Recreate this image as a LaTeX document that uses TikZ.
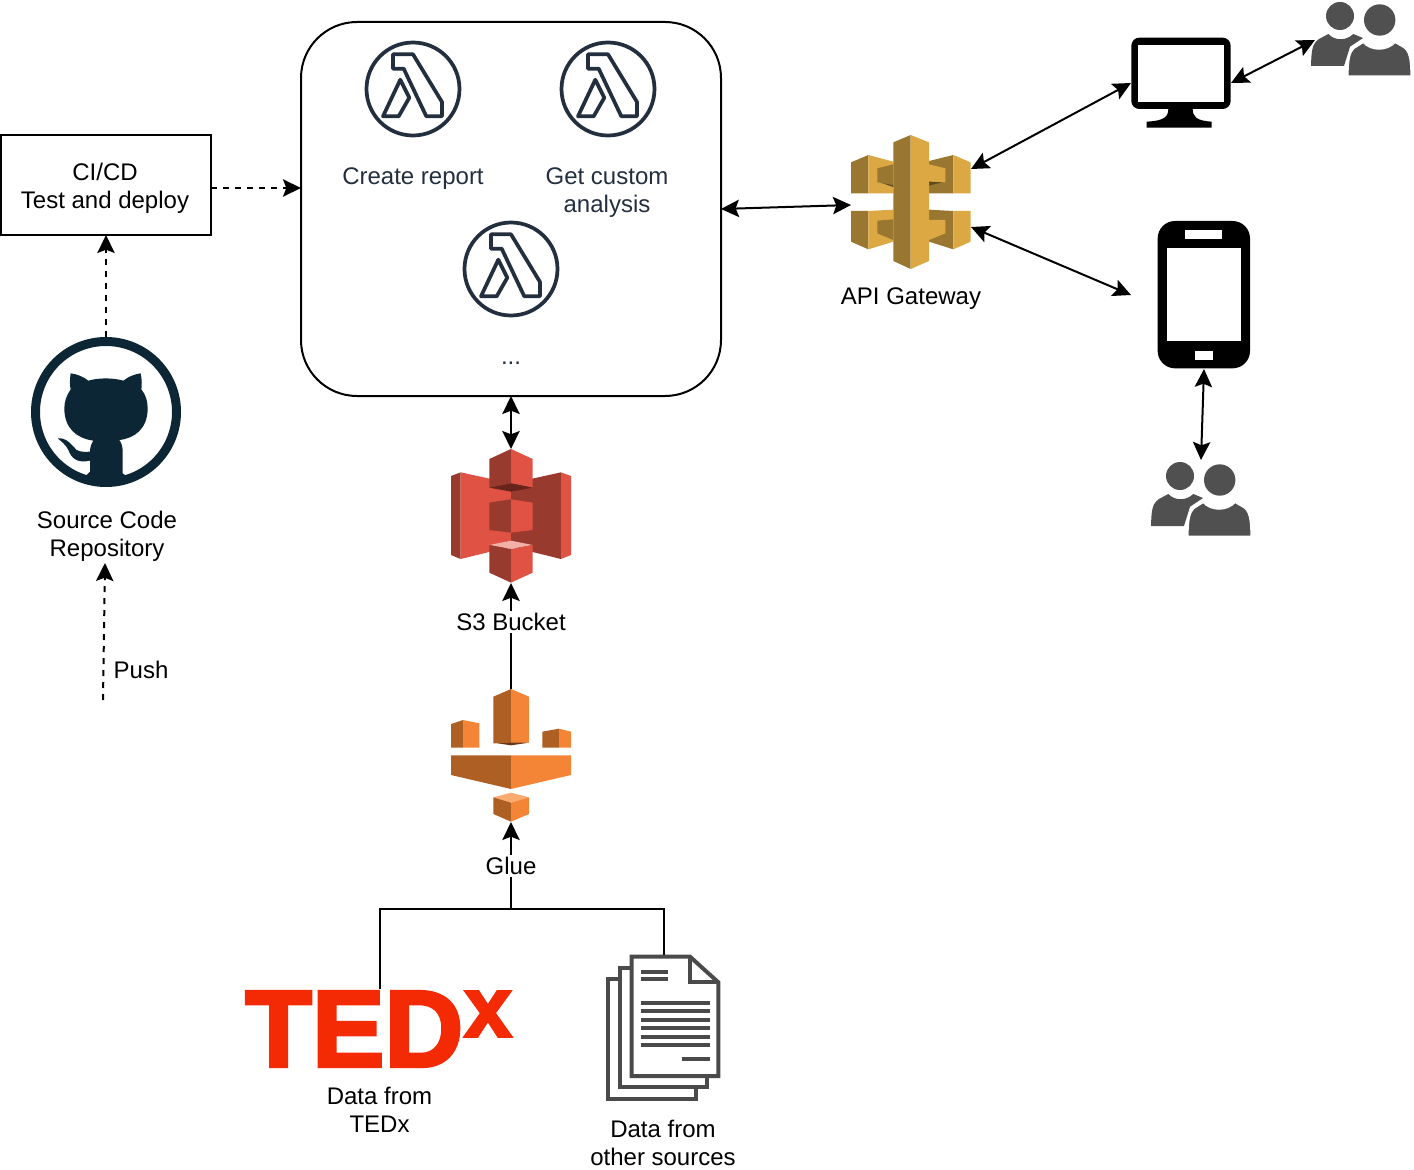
\documentclass[tikz,border=0pt]{standalone}
\usepackage{fontspec}
\setmainfont{Liberation Sans}
\newfontfamily\tedfont[UprightFont=* Bold,UprightFeatures={FakeBold=3}]{Liberation Sans}
\usetikzlibrary{arrows.meta}
\definecolor{lambdaink}{HTML}{232F3E}
\definecolor{gitink}{HTML}{0D2636}
\definecolor{tedred}{HTML}{F42A04}
\definecolor{paperink}{HTML}{4A4A4A}
\definecolor{userink}{HTML}{505050}
\definecolor{sthreelight}{HTML}{E05243}
\definecolor{sthreedark}{HTML}{993A2E}
\definecolor{sthreedeep}{HTML}{66241B}
\definecolor{sthreepale}{HTML}{F2B0A9}
\definecolor{gluelight}{HTML}{F58536}
\definecolor{gluedark}{HTML}{AD5F24}
\definecolor{gluepale}{HTML}{FBAB6E}
\definecolor{apilight}{HTML}{DBA843}
\definecolor{apidark}{HTML}{997730}
\definecolor{apideep}{HTML}{5E4A1E}
\tikzset{
    >={Stealth[length=13.5pt,width=13pt,inset=2.5pt]},
    link/.style={line width=1.5pt},
    softlink/.style={line width=1.5pt,dash pattern=on 4.5pt off 4.5pt},
    iconbox/.style 2 args={minimum width=#1*0.75pt,minimum height=#2*0.75pt,inner sep=0pt,outer sep=0pt},
    textlabel/.style={font=\fontsize{18}{21}\selectfont,align=center,inner sep=0pt},
    lambdaicon/.pic={
        \draw[lambdaink,line width=2.8pt] (0,0) circle (46.5);
        \draw[lambdaink,line width=2.8pt,line join=round]
            (-20,-34.7) -- (0,-34.7) -- (29,13) -- (29,27.3) -- (13.3,27.3)
            -- (-9.3,-20.3) -- (-20,-20.3) -- cycle;
        \draw[lambdaink,line width=2.8pt,line join=round]
            (-12.7,-9.3) -- (-3.7,8.7) -- (-14.3,27.3) -- (-30,27.3) -- cycle;
    },
    usersicon/.pic={
        \fill[userink] (29,16) circle (14);
        \fill[userink] (0,66) .. controls (0.5,50) and (1,44) .. (8,39) -- (17.3,34)
            .. controls (24,41) and (35,41) .. (42.3,34) -- (52,38) -- (39,46.7) -- (33,66) -- cycle;
        \fill[userink] (68.7,20) circle (15.7);
        \fill[userink,draw=white,line width=1.5pt] (36.5,76.5) .. controls (37,60) and (37.5,50) .. (46,46) -- (52.3,42)
            .. controls (60,51) and (76,51) .. (84,42)
            -- (91,46) .. controls (99.5,50) and (100,60) .. (100.5,76.5) -- cycle;
    }
}
\begin{document}
\begin{tikzpicture}[x=0.75pt,y=-0.75pt]
    \useasboundingbox (0,0) rectangle (1414,1170);

    % Main boxes
    \node[draw,line width=1.5pt,rounded corners=42pt,iconbox={420}{374}] (lambdas) at (511,209) {};
    \node[draw,line width=1.5pt,iconbox={210}{100}] (cicd) at (106,185) {};
    \node[textlabel] (cicdtext) at (105,188) {CI/CD\\Test and deploy};

    % Lambda functions
    \pic at (413,89) {lambdaicon};
    \pic at (608,89) {lambdaicon};
    \pic at (511,269) {lambdaicon};
    \node[textlabel,text=lambdaink] (report) at (413,179) {Create report};
    \node[textlabel,text=lambdaink] (analysis) at (607,193) {Get custom\\analysis};
    \node[textlabel,text=lambdaink] (others) at (511,363) {...};

    % Icon places
    \node[iconbox={150}{150}] (github) at (106,412) {};
    \node[iconbox={120}{134}] (gateway) at (911,202) {};
    \node[iconbox={120}{134}] (bucket) at (511,516) {};
    \node[iconbox={120}{133}] (glue) at (511,755.5) {};
    \node[iconbox={266}{78}] (tedx) at (380,1028) {};
    \node[iconbox={113}{145}] (papers) at (664,1027.5) {};
    \node[iconbox={100}{90}] (monitor) at (1181,83) {};
    \node[iconbox={146}{148}] (phone) at (1204,295) {};
    \node[iconbox={100}{76}] (usersa) at (1361,38) {};
    \node[iconbox={100}{76}] (usersb) at (1201,498) {};

    % GitHub
    \draw[gitink,line width=6.75pt] (github) circle (70.5);
    \begin{scope}[shift={(20,330)},x=0.25pt,y=-0.25pt]
        \fill[gitink] (152,130) .. controls (170,132) and (190,140) .. (205,152)
            .. controls (235,143) and (280,143) .. (310,152)
            .. controls (325,140) and (345,132) .. (362,130)
            .. controls (366,150) and (366,165) .. (364,178)
            .. controls (378,195) and (383,215) .. (383,235)
            .. controls (383,295) and (345,325) .. (298,330)
            .. controls (305,340) and (308,350) .. (308,365)
            -- (308,430) -- (315,435) -- (315,460) -- (200,460) -- (200,435) -- (210,425) -- (210,392)
            .. controls (170,400) and (155,385) .. (145,360)
            .. controls (138,345) and (125,335) .. (113,325)
            .. controls (140,322) and (155,345) .. (170,360)
            .. controls (185,368) and (200,365) .. (210,365)
            .. controls (210,350) and (215,340) .. (220,332)
            .. controls (170,325) and (133,295) .. (133,235)
            .. controls (133,215) and (140,195) .. (152,178)
            .. controls (149,165) and (149,150) .. (152,130) -- cycle;
    \end{scope}

    % S3 bucket
    \begin{scope}[shift={(430,440)},x=0.25pt,y=-0.25pt]
        \fill[sthreedark] (63,108) -- (92,97) -- (92,357) -- (63,345) -- cycle;
        \fill[sthreelight] (92,97) -- (243,130) -- (243,320) -- (92,357) -- cycle;
        \fill[sthreedark] (243,130) -- (393,97) -- (393,357) -- (243,320) -- cycle;
        \fill[sthreelight] (393,97) -- (423,108) -- (423,345) -- (393,357) -- cycle;
        \fill[sthreedark] (178,57) -- (243,27) -- (243,130) -- (178,143) -- cycle;
        \fill[sthreelight] (243,27) -- (308,57) -- (308,143) -- (243,130) -- cycle;
        \fill[sthreedeep] (178,143) -- (243,130) -- (308,143) -- (243,155) -- cycle;
        \fill[sthreedark] (178,188) -- (243,178) -- (243,278) -- (178,270) -- cycle;
        \fill[sthreelight] (243,178) -- (308,188) -- (308,270) -- (243,278) -- cycle;
        \fill[sthreepale] (178,315) -- (243,302) -- (308,315) -- (243,327) -- cycle;
        \fill[sthreedark] (178,315) -- (243,327) -- (243,428) -- (178,398) -- cycle;
        \fill[sthreelight] (243,327) -- (308,315) -- (308,398) -- (243,428) -- cycle;
    \end{scope}

    % Glue
    \begin{scope}[shift={(430,680)},x=0.25pt,y=-0.25pt]
        \fill[gluedark!60!black] (190,188) -- (243,183) -- (297,188) -- (243,196) -- cycle;
        \fill[gluedark] (190,50) -- (243,27) -- (243,188) -- (190,190) -- cycle;
        \fill[gluelight] (243,27) -- (297,50) -- (297,188) -- (243,188) -- cycle;
        \fill[gluedark] (63,132) -- (99,120) -- (99,203) -- (63,203) -- cycle;
        \fill[gluelight] (99,120) -- (148,130) -- (148,203) -- (99,203) -- cycle;
        \fill[gluedark] (337,155) -- (387,146) -- (387,203) -- (337,203) -- cycle;
        \fill[gluelight] (387,146) -- (423,155) -- (423,203) -- (387,203) -- cycle;
        \fill[gluedark] (63,226) -- (243,226) -- (243,327) -- (63,285) -- cycle;
        \fill[gluelight] (243,226) -- (423,226) -- (423,285) -- (243,327) -- cycle;
        \fill[gluepale] (190,352) -- (243,338) -- (297,352) -- (243,368) -- cycle;
        \fill[gluedark] (190,352) -- (243,368) -- (243,425) -- (190,402) -- cycle;
        \fill[gluelight] (243,368) -- (297,352) -- (297,402) -- (243,425) -- cycle;
    \end{scope}

    % API gateway
    \begin{scope}[shift={(840,125)},x=0.25pt,y=-0.25pt]
        \fill[apidark] (33,112) -- (85,90) -- (85,205) -- (33,205) -- cycle;
        \fill[apilight] (85,90) -- (160,110) -- (160,205) -- (85,205) -- cycle;
        \fill[apidark] (112,130) -- (160,118) -- (160,180) -- (112,172) -- cycle;
        \fill[apideep] (125,174) -- (160,180) -- (160,186) -- cycle;
        \fill[apidark] (267,108) -- (340,90) -- (340,205) -- (267,205) -- cycle;
        \fill[apilight] (340,90) -- (392,112) -- (392,205) -- (340,205) -- cycle;
        \fill[apilight] (267,118) -- (316,130) -- (316,172) -- (267,170) -- cycle;
        \fill[apideep] (267,170) -- (305,172) -- (267,182) -- cycle;
        \fill[apidark] (33,258) -- (85,258) -- (85,373) -- (33,350) -- cycle;
        \fill[apilight] (85,258) -- (160,254) -- (160,350) -- (85,373) -- cycle;
        \fill[apidark] (112,287) -- (160,283) -- (160,345) -- (112,325) -- cycle;
        \fill[apidark] (267,254) -- (340,258) -- (340,373) -- (267,350) -- cycle;
        \fill[apilight] (340,258) -- (392,258) -- (392,350) -- (340,373) -- cycle;
        \fill[apilight] (267,285) -- (316,285) -- (316,325) -- (267,345) -- cycle;
        \fill[apidark] (160,52) -- (212,30) -- (212,432) -- (160,408) -- cycle;
        \fill[apilight] (212,30) -- (267,52) -- (267,408) -- (212,432) -- cycle;
    \end{scope}

    % Data sources
    \node[anchor=base west,inner sep=0pt,text=tedred,font=\tedfont\fontsize{81.75}{82}\selectfont] (tedword) at (245,1066.5) {TED};
    \node[anchor=base west,inner sep=0pt,text=tedred,font=\tedfont\fontsize{64}{64}\selectfont] (tedmark) at (464,1036.5) {x};
    \begin{scope}[shift={(235,950)},x=0.25pt,y=-0.25pt,paperink,line width=3pt]
        \draw (1155,88) -- (1120,88) -- (1120,447) -- (1382,447) -- (1382,412);
        \draw (1190,55) -- (1155,55) -- (1155,412) -- (1415,412) -- (1415,378);
        \draw[fill=white] (1190,20) -- (1365,20) -- (1450,97) -- (1450,378) -- (1190,378) -- cycle;
        \draw (1365,20) -- (1365,97) -- (1450,97);
        \foreach \y in {66,88} \draw (1218,\y) -- (1300,\y);
        \foreach \y in {158,184,209,235,260,286} \draw (1218,\y) -- (1424,\y);
        \draw (1340,327) -- (1424,327);
    \end{scope}

    % Monitor and phone
    \begin{scope}[shift={(1120,0)},x=0.25pt,y=-0.25pt]
        \fill[black,rounded corners=6pt] (34,113) rectangle (332,327);
        \fill[white] (55,135) rectangle (311,306);
        \fill[black] (145,325) .. controls (145,350) and (135,362) .. (80,365) -- (80,383) -- (275,383)
            -- (275,365) .. controls (228,362) and (218,350) .. (218,325) -- cycle;
    \end{scope}
    \begin{scope}[shift={(1120,215)},x=0.25pt,y=-0.25pt]
        \fill[black,rounded corners=13pt] (113,18) rectangle (390,460);
        \fill[white] (141,100) rectangle (363,379);
        \fill[white] (196,46) rectangle (307,73);
        \fill[white] (224,407) rectangle (280,434);
    \end{scope}

    % Users
    \pic at (1311,0) {usersicon};
    \pic at (1151,460) {usersicon};

    % Free ends
    \coordinate (cicdout) at (211,188);
    \coordinate (lambdasin) at (301,188);
    \coordinate (pushstart) at (103,700);
    \coordinate (pushend) at (105,563);
    \coordinate (gatewayin) at (851,205);
    \coordinate (gatewaya) at (971,169);
    \coordinate (gatewayb) at (971,227);
    \coordinate (usersain) at (1315,40);
    \coordinate (merge) at (511,909);

    % Connectors
    \draw[softlink,->] (cicdout) -- (lambdasin);
    \draw[softlink,->] (github.north) -- (cicd.south);
    \draw[softlink,->] (pushstart) -- (pushend);
    \draw[link,<->] (lambdas.east) -- (gatewayin);
    \draw[link,<->] (lambdas.south) -- (bucket.north);
    \draw[link,<->] (gatewaya) -- (monitor.west);
    \draw[link,<->] (gatewayb) -- (phone.west);
    \draw[link,<->] (monitor.east) -- (usersain);
    \draw[link,<->] (phone.south) -- (usersb.north);
    \draw[link,->] (glue.north) -- (bucket.south);
    \draw[link] (tedx.north) |- (merge);
    \draw[link] (papers.north) |- (merge);
    \draw[link,->] (merge) -- (glue.south);

    % Labels
    \node[textlabel] (gatewaytext) at (911,299) {API Gateway};
    \node[textlabel] (repotext) at (107,536) {Source Code\\Repository};
    \node[textlabel] (pushtext) at (141,670) {Push};
    \node[textlabel,fill=white,inner ysep=2pt] (buckettext) at (511,622) {S3 Bucket};
    \node[textlabel,fill=white,inner ysep=2pt] (gluetext) at (511,866) {Glue};
    \node[textlabel] (tedxtext) at (379.5,1110) {Data from\\TEDx};
    \node[textlabel] (paperstext) at (663,1143) {Data from\\other sources};
\end{tikzpicture}
\end{document}
